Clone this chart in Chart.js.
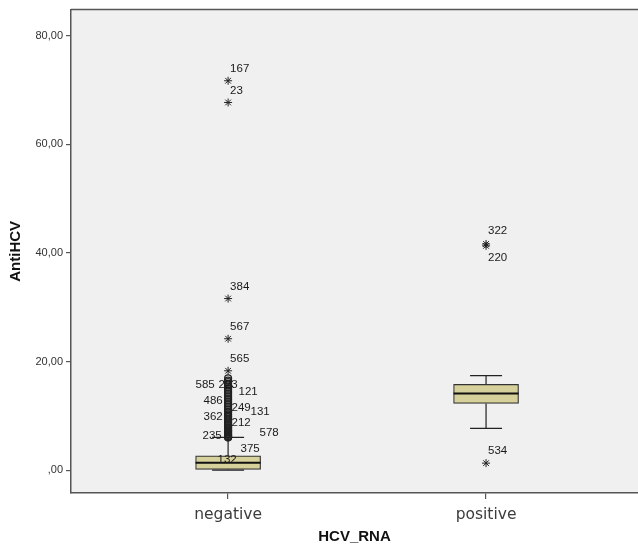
<!DOCTYPE html>
<html><head><meta charset="utf-8">
<script src="https://cdn.jsdelivr.net/npm/chart.js@4.4.0/dist/chart.umd.min.js"></script>
<style>html,body{margin:0;padding:0;background:#fff}#wrap{width:638px;height:545px}</style>
</head><body><div id="wrap"><canvas id="c" width="638" height="545"></canvas></div>
<script>
// ---- data ----
const categories = ['negative', 'positive'];
const q1 = [0.15, 12.3];
const median = [1.35, 14.1];
const q3 = [2.65, 15.8];
const whiskerLow = [0.0, 7.7];
const whiskerHigh = [6.05, 17.4];
const yTicks = [0, 20, 40, 60, 80];

// outliers (circles) of "negative"
const negCircles = [6.0, 6.1, 6.2, 6.3, 6.5, 6.6, 6.8, 7.0, 7.2, 7.3, 7.5, 7.7, 7.9, 8.1, 8.3, 8.6, 8.8,
  9.0, 9.3, 9.5, 9.8, 10.0, 10.3, 10.6, 10.8, 11.1, 11.4, 11.7, 12.0, 12.3, 12.6, 12.9, 13.2, 13.5,
  13.8, 14.1, 14.4, 14.7, 15.0, 15.3, 15.6, 15.9, 16.2, 16.5, 16.9];
const negCircleLabelIds = ['585', '223', '121', '486', '249', '131', '362', '212', '235', '578', '375', '132'];
const negCircleLabelValues = [15.8, 15.8, 14.5, 12.7, 11.4, 10.8, 9.9, 8.8, 6.4, 6.8, 6.0, 6.2];
// extreme outliers (stars)
const negStars = [18.3, 24.2, 31.6, 67.7, 71.7];
const negStarIds = ['565', '567', '384', '23', '167'];
const posStars = [41.65, 41.3, 1.3];
const posStarIds = ['322', '220', '534'];

// ---- label placement (pixels, style only) ----
const circleLabelDx = [-23, 0, 20, -15, 13, 32, -15, 13, -16, 41, 22, -1];
const circleLabelDy = [0, 0, 0, 0, 0, 0, 0, 0, 0, 0, 11, 23];
const starLabelDy = { '565': -12, '567': -12, '384': -12, '23': -12, '167': -12, '322': -13, '220': 12, '534': -12 };

const boxData = categories.map((c, i) => ({ x: i, y: [q1[i], q3[i]] }));
const circlePts = negCircles.map(v => ({ x: 0, y: v }));
const starPts = negStars.map(v => ({ x: 0, y: v })).concat(posStars.map(v => ({ x: 1, y: v })));

const AXIS = '#555';

const boxPlugin = {
  id: 'boxParts',
  afterLayout(chart) {
    // let the plot run to the right edge of the canvas, as in the reference
    const x = chart.scales.x;
    const r = chart.width;
    chart.chartArea.right = r;
    chart.chartArea.width = r - chart.chartArea.left;
    x.right = r;
    x.width = r - x.left;
    x.configure();
  },
  beforeDraw(chart) {
    const { ctx, chartArea: a } = chart;
    ctx.save();
    ctx.fillStyle = '#f0f0f0';
    ctx.fillRect(a.left, a.top, a.right - a.left, a.bottom - a.top);
    ctx.strokeStyle = AXIS; ctx.lineWidth = 1.5;
    ctx.beginPath(); ctx.moveTo(a.left, a.top); ctx.lineTo(a.right, a.top); ctx.stroke();
    ctx.restore();
  },
  beforeDatasetsDraw(chart) {
    const { ctx, scales: { x, y } } = chart;
    ctx.save();
    ctx.strokeStyle = '#222'; ctx.lineWidth = 1.2;
    categories.forEach((c, i) => {
      const px = x.getPixelForValue(i);
      const cap = 16;
      ctx.beginPath();
      ctx.moveTo(px, y.getPixelForValue(q3[i])); ctx.lineTo(px, y.getPixelForValue(whiskerHigh[i]));
      ctx.moveTo(px, y.getPixelForValue(q1[i])); ctx.lineTo(px, y.getPixelForValue(whiskerLow[i]));
      ctx.moveTo(px - cap, y.getPixelForValue(whiskerHigh[i])); ctx.lineTo(px + cap, y.getPixelForValue(whiskerHigh[i]));
      ctx.moveTo(px - cap, y.getPixelForValue(whiskerLow[i])); ctx.lineTo(px + cap, y.getPixelForValue(whiskerLow[i]));
      ctx.stroke();
    });
    ctx.restore();
  },
  afterDatasetsDraw(chart) {
    const { ctx, scales: { x, y } } = chart;
    const boxMeta = chart.getDatasetMeta(0);
    ctx.save();
    ctx.strokeStyle = '#111'; ctx.lineWidth = 2;
    categories.forEach((c, i) => {
      const bar = boxMeta.data[i];
      const py = y.getPixelForValue(median[i]);
      ctx.beginPath(); ctx.moveTo(bar.x - bar.width / 2, py); ctx.lineTo(bar.x + bar.width / 2, py); ctx.stroke();
    });
    ctx.fillStyle = '#1a1a1a';
    ctx.font = '11.5px "Liberation Sans", Arial, sans-serif';
    ctx.textBaseline = 'middle';
    ctx.textAlign = 'center';
    const px0 = x.getPixelForValue(0);
    negCircleLabelIds.forEach((id, k) => {
      ctx.fillText(id, px0 + circleLabelDx[k], y.getPixelForValue(negCircleLabelValues[k]) + circleLabelDy[k]);
    });
    ctx.textAlign = 'left';
    negStarIds.forEach((id, k) => {
      ctx.fillText(id, px0 + 2, y.getPixelForValue(negStars[k]) + starLabelDy[id]);
    });
    const px1 = x.getPixelForValue(1);
    posStarIds.forEach((id, k) => {
      ctx.fillText(id, px1 + 2, y.getPixelForValue(posStars[k]) + starLabelDy[id]);
    });
    ctx.restore();
  }
};

new Chart(document.getElementById('c'), {
  type: 'bar',
  data: {
    datasets: [
      { type: 'bar', data: boxData, backgroundColor: '#d6d09b', borderColor: '#333', borderWidth: 1.2,
        borderSkipped: false, barThickness: 65, order: 3 },
      { type: 'line', data: circlePts, showLine: false, pointStyle: 'circle', pointRadius: 3.5,
        pointBorderColor: '#222', pointBackgroundColor: 'rgba(0,0,0,0)', pointBorderWidth: 1.2, order: 2 },
      { type: 'line', data: starPts, showLine: false, pointStyle: 'star', pointRadius: 4,
        pointBorderColor: '#222', pointBorderWidth: 1, order: 1 }
    ]
  },
  options: {
    responsive: false,
    animation: false,
    devicePixelRatio: 1,
    layout: { padding: { top: 8, right: 0, left: 0, bottom: 0 } },
    plugins: { legend: { display: false }, tooltip: { enabled: false } },
    scales: {
      x: {
        type: 'linear', min: -0.609, max: 1.589, offset: false,
        afterBuildTicks: s => { s.ticks = categories.map((c, i) => ({ value: i })); },
        afterFit: s => { s.height = 52; },
        grid: { offset: false, drawOnChartArea: false, drawTicks: true, tickLength: 6, color: AXIS, lineWidth: 1.2 },
        border: { display: true, color: AXIS, width: 1.5 },
        ticks: { callback: v => categories[v], color: '#3c3c3c', padding: 7,
          font: { family: '"DejaVu Sans", sans-serif', size: 15.5 } },
        title: { display: true, text: 'HCV_RNA', color: '#111', padding: { top: 0, bottom: 0 },
          font: { family: '"Liberation Sans", Arial, sans-serif', size: 15, weight: 'bold', lineHeight: 1.07 } }
      },
      y: {
        type: 'linear', min: -4.2, max: 84.8,
        afterBuildTicks: s => { s.ticks = yTicks.map(v => ({ value: v })); },
        afterFit: s => { s.width = 71; },
        grid: { drawOnChartArea: false, drawTicks: true, tickLength: 5, color: AXIS, lineWidth: 1.2 },
        border: { display: true, color: AXIS, width: 1.5 },
        ticks: { callback: v => v === 0 ? ',00' : v.toFixed(2).replace('.', ','), color: '#333', padding: 3,
          font: { family: '"Liberation Sans", Arial, sans-serif', size: 11 } },
        title: { display: true, text: 'AntiHCV', color: '#111', padding: { top: 7, bottom: 0 },
          font: { family: '"Liberation Sans", Arial, sans-serif', size: 15, weight: 'bold' } }
      }
    }
  },
  plugins: [boxPlugin]
});
</script>
</body></html>
